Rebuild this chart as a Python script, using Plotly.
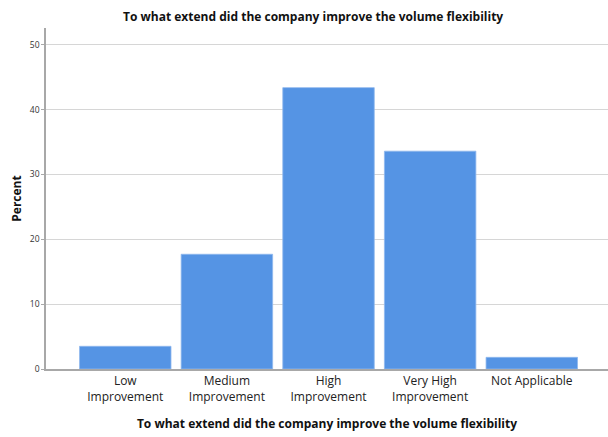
import plotly.graph_objects as go

categories = ["Low<br>Improvement", "Medium<br>Improvement", "High<br>Improvement",
              "Very High<br>Improvement", "Not Applicable"]
percent = [3.5, 17.7, 43.4, 33.6, 1.8]
y_ticks = [0, 10, 20, 30, 40, 50]

title_text = "To what extend did the company improve the volume flexibility"
font_family = "Open Sans"

fig = go.Figure(
    go.Bar(
        x=list(range(len(categories))),
        y=percent,
        marker=dict(color="#5594e4", line=dict(color="#8fb8ee", width=0.8)),
        width=0.9,
    )
)

fig.update_layout(
    width=608,
    height=437,
    margin=dict(l=46, r=0, t=28, b=68),
    plot_bgcolor="white",
    paper_bgcolor="white",
    showlegend=False,
    title=dict(
        text="<b>" + title_text + "</b>",
        x=0.515,
        xanchor="center",
        y=1 - 17 / 437,
        yanchor="middle",
        font=dict(family=font_family, size=12, color="#111111"),
    ),
)

fig.update_xaxes(
    tickmode="array",
    tickvals=list(range(len(categories))),
    ticktext=categories,
    range=[-0.78, 4.75],
    showline=True,
    linecolor="#a8a8a8",
    linewidth=1.5,
    showgrid=False,
    ticks="",
    tickfont=dict(family=font_family, size=12, color="#222222"),
    title=dict(
        text="<b>" + title_text + "</b>",
        font=dict(family=font_family, size=12, color="#111111"),
        standoff=16,
    ),
)

fig.update_yaxes(
    range=[0, 52.6],
    tickmode="array",
    tickvals=y_ticks,
    showline=True,
    linecolor="#a8a8a8",
    linewidth=1.5,
    showgrid=True,
    gridcolor="#d6d6d6",
    gridwidth=1,
    zeroline=False,
    ticks="outside",
    ticklen=3,
    tickcolor="#a8a8a8",
    tickfont=dict(family=font_family, size=8.5, color="#333333"),
    title=dict(
        text="<b>Percent</b>",
        font=dict(family=font_family, size=12, color="#111111"),
        standoff=6,
    ),
)

fig.write_html("out.html")
